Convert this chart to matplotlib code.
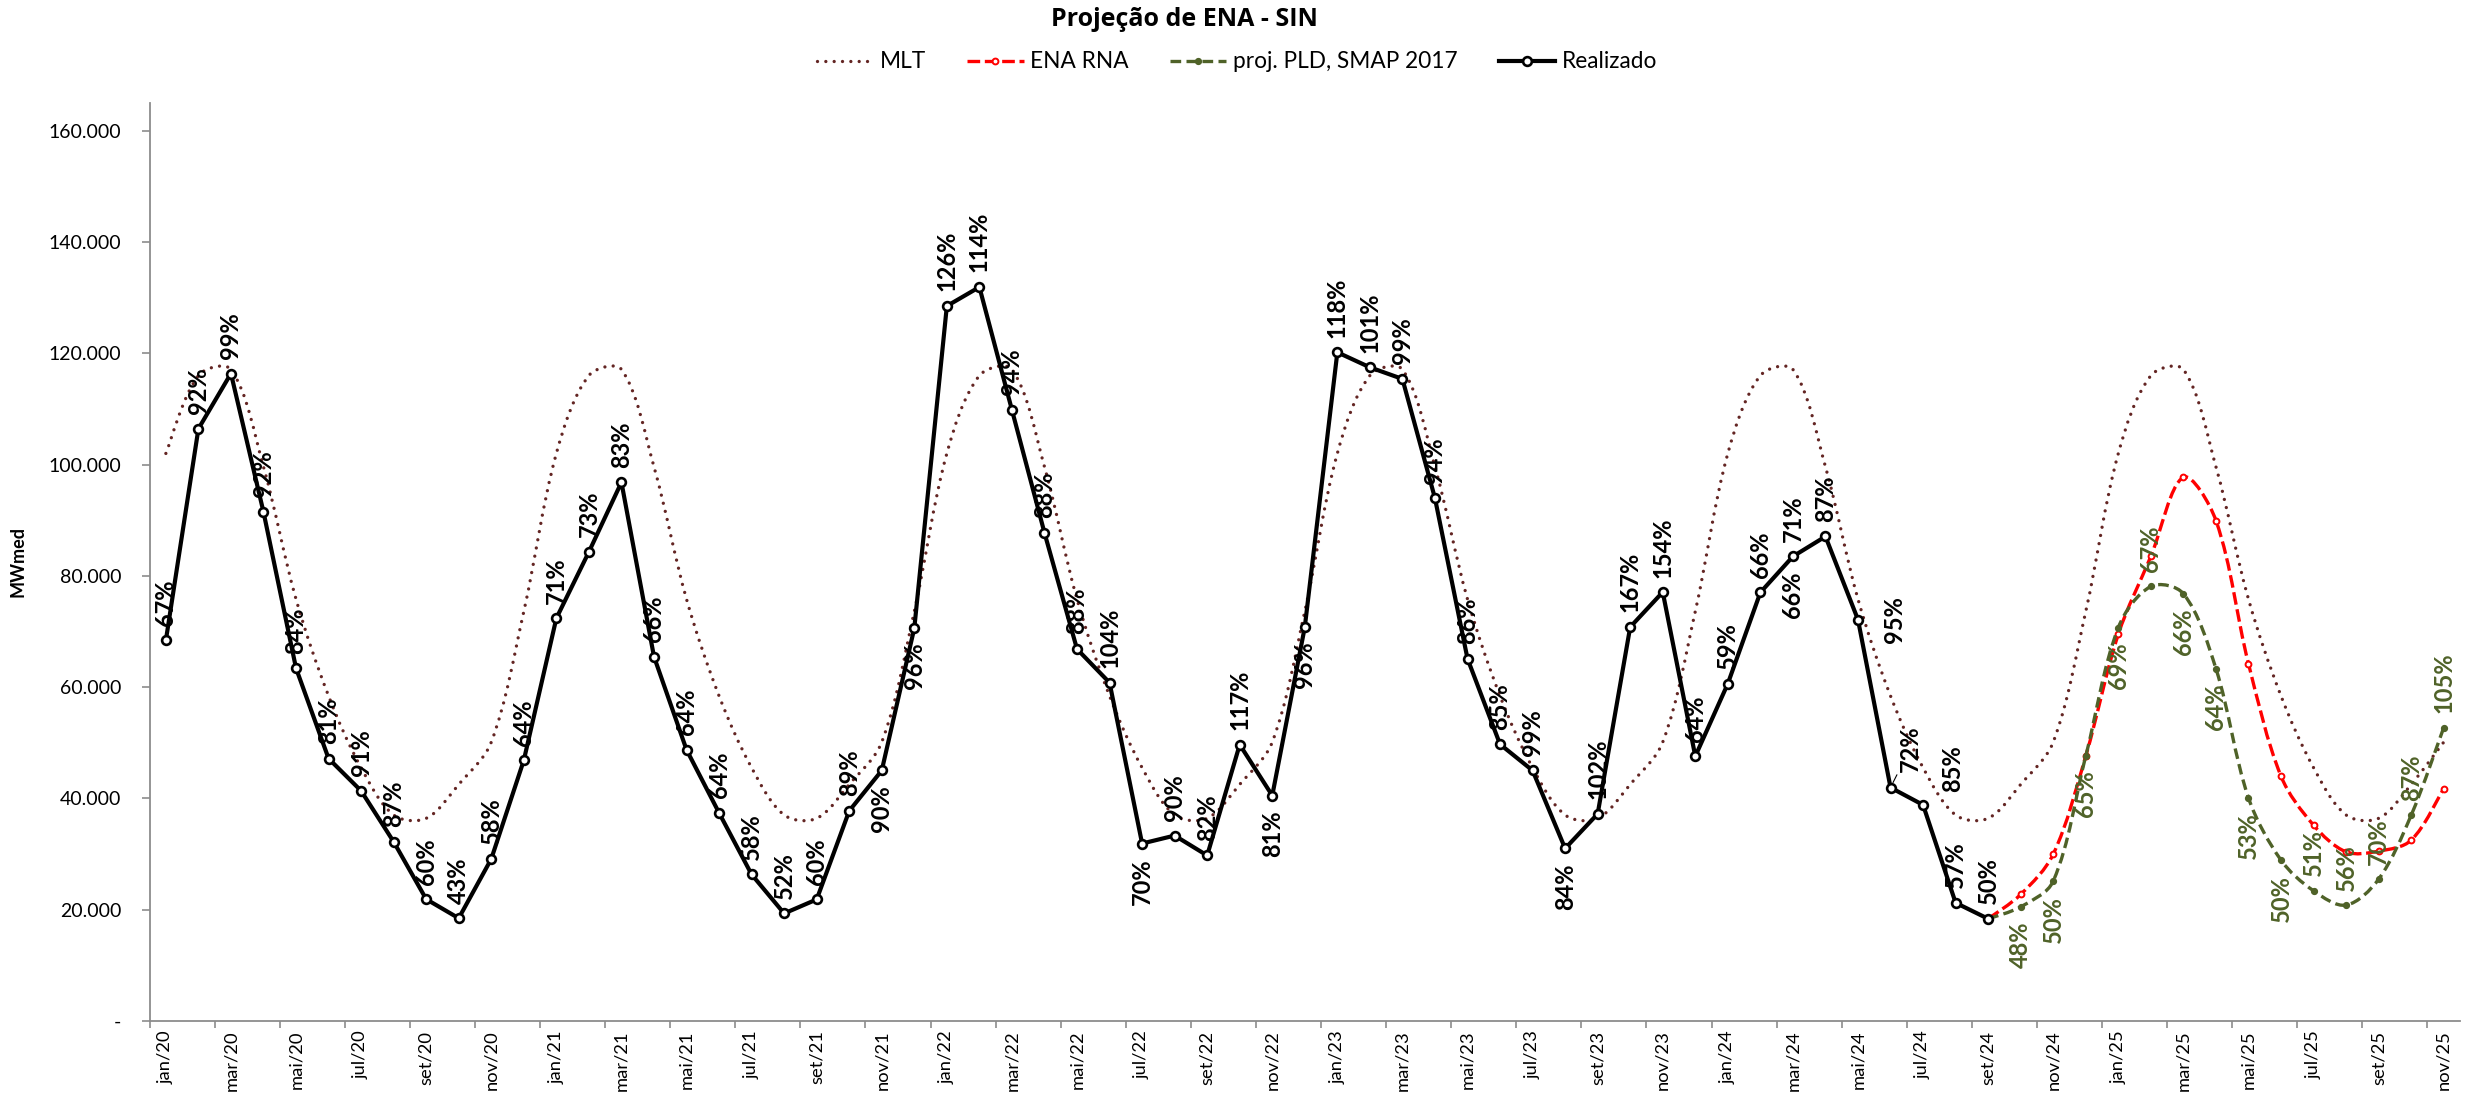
import numpy as np
import matplotlib
matplotlib.use("Agg")
import matplotlib.pyplot as plt
from matplotlib.path import Path
from matplotlib.patches import PathPatch
from matplotlib.lines import Line2D
from matplotlib.ticker import FuncFormatter, FixedLocator

plt.rcParams["font.family"] = ["Lato", "DejaVu Sans"]

# ---------------------------------------------------------------- data
month_names = ["jan", "fev", "mar", "abr", "mai", "jun",
               "jul", "ago", "set", "out", "nov", "dez"]
categories = [f"{m}/{y}" for y in range(20, 26) for m in month_names][:71]

# Long-term average (MLT), MWmed, jan/20 .. nov/25
mlt = [
    102000, 116000, 117100, 99600, 75800, 58400, 45500, 37000, 36400, 42500, 50100, 73600,
    102000, 116000, 117100, 99600, 75800, 58400, 45500, 37000, 36400, 42500, 50100, 73600,
    102000, 116000, 117100, 99600, 75800, 58400, 45500, 37000, 36400, 42500, 50100, 73600,
    102000, 116000, 117100, 99600, 75800, 58400, 45500, 37000, 36400, 42500, 50100, 73600,
    102000, 116000, 117100, 99600, 75800, 58400, 45500, 37000, 36400, 42500, 50100, 73600,
    102000, 116000, 117100, 99600, 75800, 58400, 45500, 37000, 36400, 42500, 50100,
]

# Observed ENA, jan/20 .. set/24
realizado = [
    68400, 106430, 116370, 91480, 63390, 47150, 41340, 32180, 21860, 18440, 29100, 46840,
    72370, 84300, 96810, 65470, 48730, 37380, 26310, 19300, 21820, 37740, 45000, 70600,
    128500, 131910, 109820, 87730, 66830, 60790, 31870, 33300, 29720, 49650, 40490, 70790,
    120180, 117480, 115390, 93950, 65100, 49710, 45000, 30980, 37200, 70790, 77070, 47560,
    60610, 77010, 83480, 87070, 72110, 41930, 38810, 21210, 18340,
]
realizado_pct = [
    "67%", "92%", "99%", "92%", "84%", "81%", "91%", "87%", "60%", "43%", "58%", "64%",
    "71%", "73%", "83%", "66%", "64%", "64%", "58%", "52%", "60%", "89%", "90%", "96%",
    "126%", "114%", "94%", "88%", "88%", "104%", "70%", "90%", "82%", "117%", "81%", "96%",
    "118%", "101%", "99%", "94%", "86%", "85%", "99%", "84%", "102%", "167%", "154%", "64%",
    "59%", "66%", "71%", "87%", "95%", "72%", "85%", "57%", "50%",
]

# Forecasts, set/24 .. nov/25
forecast_start = 56
ena_rna = [18340, 22720, 29960, 47620, 69500, 83500, 97720, 89940,
           64200, 43970, 35170, 30370, 30500, 32470, 41750]
proj_pld = [18340, 20490, 25110, 47620, 70700, 78090, 76780, 63310,
            40070, 28880, 23370, 20800, 25470, 36960, 52710]
proj_pld_pct = ["48%", "50%", "65%", "69%", "67%", "66%", "64%",
                "53%", "50%", "51%", "56%", "70%", "87%", "105%"]

# --------------------------------------------------------------- styles
C_MLT = "#632523"
C_RNA = "#FF0000"
C_PLD = "#4F6228"
C_AXIS = "#8C8C8C"

FIG_W, FIG_H = 2476, 1094
X0_PX, X1_PX = 149.6, 2460.0
Y0_PX, Y1_PX = 1020.8, 103.0
YMAX = 165000

# label placement: a = above, b = below, or explicit offset in points
realizado_pos = (["a"] * 12 +
                 ["a"] * 10 + ["b", "b"] +
                 ["a"] * 6 + ["b", "a", "a", "a", "b", "b"] +
                 ["a"] * 7 + ["b", "a", "a", "a", "a"] +
                 ["a", "a", "a", "a", (26, 0), (14, 28), (21, 26), "a", "a"])
leader_line_at = {53}
proj_pos = ["b", "b", "b", "b", "a", "b", "b", "b", "b", "a", "a", "a", "a", "a"]

# pixel size of one data unit, used to shape the smoothed curves
PX_PER_X = (X1_PX - X0_PX) / 71.0
PX_PER_Y = (Y0_PX - Y1_PX) / YMAX


def smooth_path(x, y):
    """Bezier path through the points, tangents scaled by chord length."""
    x = np.asarray(x, float)
    y = np.asarray(y, float)
    n = len(x)
    px, py = x * PX_PER_X, y * PX_PER_Y
    seg = np.hypot(np.diff(px), np.diff(py))

    def tangent(i):
        i0, i2 = max(i - 1, 0), min(i + 1, n - 1)
        return np.array([x[i2] - x[i0], y[i2] - y[i0]])

    verts = [(x[0], y[0])]
    codes = [Path.MOVETO]
    for i in range(n - 1):
        d_prev = seg[i - 1] if i > 0 else seg[i]
        d_next = seg[i + 1] if i + 1 < n - 1 else seg[i]
        d = seg[i]
        t1 = tangent(i) * (d / (d_prev + d)) / 1.5
        t2 = tangent(i + 1) * (d / (d + d_next)) / 1.5
        p1 = np.array([x[i], y[i]])
        p2 = np.array([x[i + 1], y[i + 1]])
        verts += [tuple(p1 + t1 / 2.0), tuple(p2 - t2 / 2.0), tuple(p2)]
        codes += [Path.CURVE4] * 3
    return Path(verts, codes)


def put_label(ax, x, y, text, pos, color, leader=False):
    if pos == "a":
        off, va = (0, 10.5), "bottom"
    elif pos == "b":
        off, va = (0, -10.5), "top"
    else:
        off, va = pos, "center"
    kw = {}
    if leader:
        kw["arrowprops"] = dict(arrowstyle="-", color=color, lw=0.8,
                                shrinkA=0, shrinkB=4)
    ax.annotate(text, (x, y), xytext=off, textcoords="offset points",
                rotation=90, ha="center", va=va, fontsize=17,
                fontweight="bold", color=color, zorder=8, **kw)


# ---------------------------------------------------------------- figure
fig = plt.figure(figsize=(FIG_W / 100, FIG_H / 100), dpi=100)
L, R = X0_PX / FIG_W, X1_PX / FIG_W
B, T = 1 - Y0_PX / FIG_H, 1 - Y1_PX / FIG_H
ax = fig.add_axes([L, B, R - L, T - B])

x_all = np.arange(len(mlt))
x_real = np.arange(len(realizado))
x_fc = np.arange(forecast_start, forecast_start + len(ena_rna))

# MLT: smoothed dotted line
ax.add_patch(PathPatch(smooth_path(x_all, mlt), fill=False, edgecolor=C_MLT,
                       lw=2.4, linestyle=(0, (0.001, 2.5)), capstyle="round",
                       zorder=2))

# ENA RNA: smoothed dashed red
ax.add_patch(PathPatch(smooth_path(x_fc, ena_rna), fill=False, edgecolor=C_RNA,
                       lw=2.4, linestyle=(0, (3.8, 1.4)), capstyle="butt",
                       zorder=3))
ax.plot(x_fc, ena_rna, ls="none", marker="o", ms=4.2, mfc="white",
        mec=C_RNA, mew=1.4, zorder=3.1)

# proj. PLD: smoothed dashed green
ax.add_patch(PathPatch(smooth_path(x_fc, proj_pld), fill=False, edgecolor=C_PLD,
                       lw=2.4, linestyle=(0, (3.2, 1.6)), capstyle="butt",
                       zorder=4))
ax.plot(x_fc, proj_pld, ls="none", marker="o", ms=4.2, mfc=C_PLD,
        mec=C_PLD, mew=1.0, zorder=4.1)

# Realizado: solid black with open circles
ax.plot(x_real, realizado, color="black", lw=3.0, marker="o", ms=6.3,
        mfc="white", mec="black", mew=1.9, zorder=5)

for xi, yi, t, p in zip(x_real, realizado, realizado_pct, realizado_pos):
    put_label(ax, xi, yi, t, p, "black", leader=(xi in leader_line_at))
# second tag drawn under mar/24
put_label(ax, 50, realizado[50], "66%", "b", "black")

for xi, yi, t, p in zip(x_fc[1:], proj_pld[1:], proj_pld_pct, proj_pos):
    put_label(ax, xi, yi, t, p, C_PLD)

# ---------------------------------------------------------------- axes
ax.set_xlim(-0.5, len(mlt) - 0.5)
ax.set_ylim(0, YMAX)

ax.xaxis.set_major_locator(FixedLocator(np.arange(-0.5, len(mlt) - 1, 2)))
ax.xaxis.set_minor_locator(FixedLocator(np.arange(0, len(mlt), 2)))
ax.xaxis.set_major_formatter(FuncFormatter(lambda v, p: ""))
ax.xaxis.set_minor_formatter(
    FuncFormatter(lambda v, p: categories[int(round(v))]))
ax.tick_params(axis="x", which="major", direction="out", length=5,
               width=1.2, color=C_AXIS)
ax.tick_params(axis="x", which="minor", length=0, pad=7, labelsize=13.2,
               labelrotation=90)

ax.set_yticks(np.arange(0, 160001, 20000))
ax.yaxis.set_major_formatter(FuncFormatter(
    lambda v, p: "-" if v == 0 else f"{v:,.0f}".replace(",", ".")))
ax.tick_params(axis="y", direction="out", length=5.5, width=1.2,
               color=C_AXIS, pad=15, labelsize=14)

for s in ("top", "right"):
    ax.spines[s].set_visible(False)
for s in ("left", "bottom"):
    ax.spines[s].set_color(C_AXIS)
    ax.spines[s].set_linewidth(1.3)

fig.text(18 / FIG_W, (B + T) / 2, "MWmed", rotation=90, ha="center",
         va="center", fontsize=13, fontweight="bold")

fig.text(1184 / FIG_W, 1 - 20 / FIG_H, "Projeção de ENA - SIN", ha="center",
         va="center", fontsize=18, fontweight="bold",
         family=["Open Sans", "DejaVu Sans"])

handles = [
    Line2D([], [], color=C_MLT, lw=2.4, ls=(0, (0.001, 2.5)),
           dash_capstyle="round"),
    Line2D([], [], color=C_RNA, lw=2.4, ls=(0, (3.8, 1.4)), marker="o",
           ms=4.2, mfc="white", mec=C_RNA, mew=1.4),
    Line2D([], [], color=C_PLD, lw=2.4, ls=(0, (3.2, 1.6)), marker="o",
           ms=4.2, mfc=C_PLD, mec=C_PLD),
    Line2D([], [], color="black", lw=3.0, marker="o", ms=6.3, mfc="white",
           mec="black", mew=1.9),
]
fig.legend(handles, ["MLT", "ENA RNA", "proj. PLD, SMAP 2017", "Realizado"],
           loc="center", bbox_to_anchor=(1237 / FIG_W, 1 - 62 / FIG_H), ncol=4,
           frameon=False, fontsize=16.3, handlelength=2.5, handletextpad=0.3,
           columnspacing=1.8)

fig.savefig("out.png", dpi=100)
